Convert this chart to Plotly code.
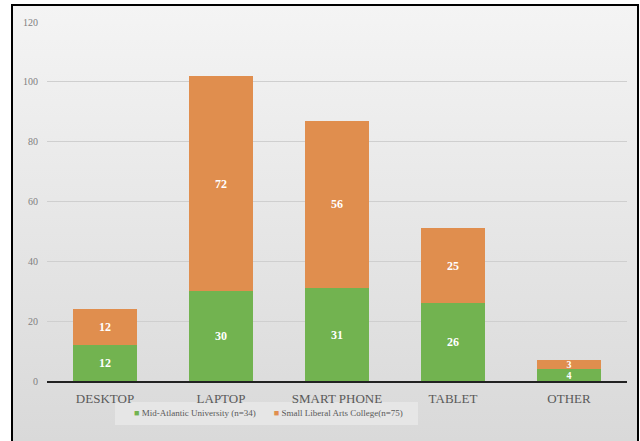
import base64
import plotly.graph_objects as go

categories = ["DESKTOP", "LAPTOP", "SMART PHONE", "TABLET", "OTHER"]
mid_atlantic = [12, 30, 31, 26, 4]
liberal_arts = [12, 72, 56, 25, 3]
series_names = ["Mid-Atlantic University (n=34)", "Small Liberal Arts College(n=75)"]
y_ticks = [0, 20, 40, 60, 80, 100, 120]
colors = ["#72b350", "#e08e4e"]

FONT = "Liberation Serif, DejaVu Serif, serif"

L, R, T, B = 47, 13, 22, 60
W, H = 640, 441
PW, PH = W - L - R, H - T - B


def px_x(x):
    return (x - L) / PW


def px_y(y):
    return (H - B - y) / PH


label_sizes = [12, 12, 12, 12, 10]

fig = go.Figure()
for vals, name, col in [(mid_atlantic, series_names[0], colors[0]),
                        (liberal_arts, series_names[1], colors[1])]:
    fig.add_trace(go.Bar(
        x=categories, y=vals, name=name, showlegend=False,
        marker=dict(color=col, line=dict(width=0)),
        text=vals, textposition="inside", insidetextanchor="middle",
        constraintext="none", textangle=0,
        textfont=dict(color="white", size=label_sizes, family=FONT, weight="bold"),
        width=0.56,
    ))

svg = ('<svg xmlns="http://www.w3.org/2000/svg" width="100" height="100" preserveAspectRatio="none">'
       '<defs><linearGradient id="g" x1="0" y1="0" x2="0" y2="1">'
       '<stop offset="0" stop-color="#f4f4f4"/><stop offset="1" stop-color="#d9d9d9"/>'
       '</linearGradient></defs><rect width="100" height="100" fill="url(#g)"/></svg>')
src = "data:image/svg+xml;base64," + base64.b64encode(svg.encode()).decode()

bx0, bx1, by0, by1 = px_x(12), px_x(638), px_y(441), px_y(5)

legend_text = (f"<span style='color:{colors[0]}'>■</span> {series_names[0]}"
               + "&nbsp;" * 8 +
               f"<span style='color:{colors[1]}'>■</span> {series_names[1]}")

fig.update_layout(
    barmode="stack",
    width=W, height=H,
    margin=dict(l=L, r=R, t=T, b=B),
    paper_bgcolor="white",
    plot_bgcolor="rgba(0,0,0,0)",
    font=dict(family=FONT, color="#595959"),
    showlegend=False,
    images=[dict(source=src, xref="paper", yref="paper", x=bx0, y=by1,
                 sizex=bx1 - bx0, sizey=by1 - by0, sizing="stretch",
                 xanchor="left", yanchor="top", layer="below")],
    shapes=[
        dict(type="rect", xref="paper", yref="paper",
             x0=bx0, x1=bx1, y0=by0 - 0.05, y1=by1,
             fillcolor="rgba(0,0,0,0)", line=dict(color="black", width=2), layer="above"),
        dict(type="rect", xref="paper", yref="paper",
             x0=px_x(115), x1=px_x(418), y0=px_y(425), y1=px_y(402),
             fillcolor="#e6e6e6", line=dict(width=0), layer="below"),
    ],
    annotations=[dict(
        xref="paper", yref="paper", x=px_x(268), y=px_y(413),
        xanchor="center", yanchor="middle", showarrow=False,
        text=legend_text,
        font=dict(size=9, color="#595959", family=FONT),
    )],
)
fig.update_yaxes(
    range=[0, 120], tickvals=y_ticks, showgrid=True, gridcolor="#cfcfcf", gridwidth=1,
    zeroline=False, showline=False, ticks="", ticklabelstandoff=8,
    tickfont=dict(size=10, color="#808080", family=FONT),
)
fig.update_xaxes(
    showline=True, linecolor="#222222", linewidth=2, ticks="", ticklabelstandoff=4,
    tickfont=dict(size=13, color="#595959", family=FONT),
)
fig.write_html("out.html", config={"displayModeBar": False},
               post_script="document.body.style.margin='0';")
